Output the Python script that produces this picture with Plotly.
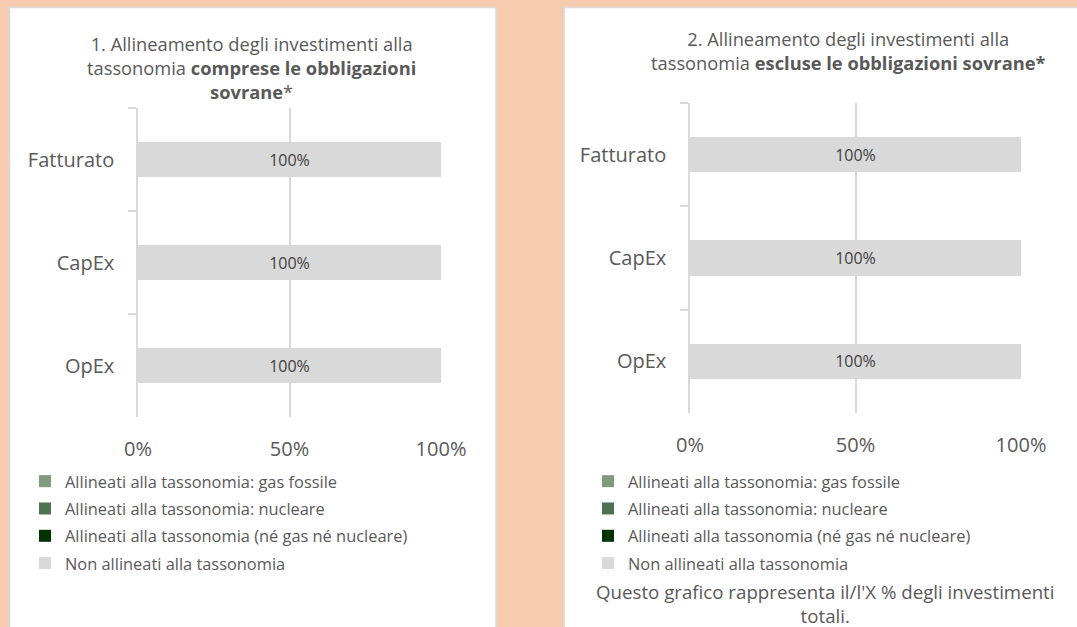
import plotly.graph_objects as go

W, H = 1077, 627

categories = ["Fatturato", "CapEx", "OpEx"]
series_names = [
    "Allineati alla tassonomia: gas fossile",
    "Allineati alla tassonomia: nucleare",
    "Allineati alla tassonomia (né gas né nucleare)",
    "Non allineati alla tassonomia",
]
series_colors = ["#7F9A7C", "#4E7350", "#003300", "#D9D9D9"]

# chart 1: including sovereign bonds
chart1_gas = [0, 0, 0]
chart1_nucl = [0, 0, 0]
chart1_other = [0, 0, 0]
chart1_non = [100, 100, 100]

# chart 2: excluding sovereign bonds
chart2_gas = [0, 0, 0]
chart2_nucl = [0, 0, 0]
chart2_other = [0, 0, 0]
chart2_non = [100, 100, 100]

tick_vals = [0, 50, 100]
tick_text = ["0%", "50%", "100%"]

title1 = "1. Allineamento degli investimenti alla<br>tassonomia <b>comprese le obbligazioni<br>sovrane</b>*"
title2 = "2. Allineamento degli investimenti alla<br>tassonomia <b>escluse le obbligazioni sovrane*</b>"
footnote = "Questo grafico rappresenta il/l'X % degli investimenti<br>totali."

FONT = "Open Sans"
TXT = "#595959"
GRID = "#D9D9D9"

fig = go.Figure()

def add_chart(vals, xa, ya, legend):
    for i, (name, color, v) in enumerate(zip(series_names, series_colors, vals)):
        is_last = i == len(series_names) - 1
        fig.add_trace(go.Bar(
            y=categories, x=v, name=name, orientation="h",
            marker=dict(color=color, line=dict(width=0)),
            xaxis=xa, yaxis=ya, legend=legend,
            legendgroup=f"{legend}_{i}",
            text=[f"{x:.0f}%" for x in v] if is_last else None,
            textposition="inside" if is_last else "none",
            insidetextanchor="middle",
            textfont=dict(family=FONT, size=16, color="#404040"),
            hoverinfo="x+name",
        ))

add_chart([chart1_gas, chart1_nucl, chart1_other, chart1_non], "x", "y", "legend")
add_chart([chart2_gas, chart2_nucl, chart2_other, chart2_non], "x2", "y2", "legend2")

def px(x):
    return x / W

def py(y):
    return 1 - y / H

xcommon = dict(range=[0, 100], tickvals=tick_vals, ticktext=tick_text,
               showgrid=True, gridcolor=GRID, gridwidth=1.5, zeroline=False,
               showline=False, ticks="", fixedrange=True, ticklabelstandoff=18,
               automargin=False,
               tickfont=dict(family=FONT, size=20, color=TXT))
ycommon = dict(type="category", autorange="reversed", showgrid=False,
               showline=True, linecolor=GRID, linewidth=1.5,
               ticks="outside", tickson="boundaries", ticklen=8, tickcolor=GRID,
               tickwidth=1.5, fixedrange=True, ticklabelstandoff=18,
               automargin=False,
               tickfont=dict(family=FONT, size=20, color=TXT))

legcommon = dict(font=dict(family=FONT, size=16.4, color=TXT), bgcolor="rgba(0,0,0,0)",
                 traceorder="grouped", tracegroupgap=3, itemsizing="constant",
                 xanchor="left", yanchor="top", itemwidth=30)

fig.update_layout(
    width=W, height=H,
    autosize=False,
    margin=dict(l=0, r=0, t=0, b=0, pad=0, autoexpand=False),
    paper_bgcolor="#F7CBAD",
    plot_bgcolor="rgba(0,0,0,0)",
    barmode="stack", bargap=0.66,
    showlegend=True,
    xaxis=dict(domain=[px(138), px(441)], anchor="y", **xcommon),
    yaxis=dict(domain=[py(417), py(108)], anchor="x", **ycommon),
    xaxis2=dict(domain=[px(690), px(1021)], anchor="y2", **xcommon),
    yaxis2=dict(domain=[py(413), py(103)], anchor="x2", **ycommon),
    legend=dict(x=px(25), y=py(464), **legcommon),
    legend2=dict(x=px(588), y=py(464), **legcommon),
    shapes=[
        dict(type="rect", xref="paper", yref="paper", x0=px(9.5), x1=px(496),
             y0=py(660), y1=py(7.5), fillcolor="white",
             line=dict(color="#D9D9D9", width=1.5), layer="below"),
        dict(type="rect", xref="paper", yref="paper", x0=px(564), x1=px(1140),
             y0=py(660), y1=py(7.5), fillcolor="white",
             line=dict(color="#D9D9D9", width=1.5), layer="below"),
    ],
    annotations=[
        dict(text=title1, xref="paper", yref="paper", x=px(251), y=py(68),
             xanchor="center", yanchor="middle", showarrow=False, align="center",
             font=dict(family=FONT, size=18.3, color=TXT)),
        dict(text=title2, xref="paper", yref="paper", x=px(848), y=py(50),
             xanchor="center", yanchor="middle", showarrow=False, align="center",
             font=dict(family=FONT, size=18.3, color=TXT)),
        dict(text=footnote, xref="paper", yref="paper", x=px(825), y=py(603),
             xanchor="center", yanchor="middle", showarrow=False, align="center",
             font=dict(family=FONT, size=18.7, color=TXT)),
    ],
)

fig.write_html(
    "out.html",
    config={"responsive": False, "displayModeBar": False},
    post_script="document.body.style.margin='0';document.body.style.padding='0';"
                "document.documentElement.style.overflow='hidden';"
                "document.body.style.overflow='hidden';",
)
